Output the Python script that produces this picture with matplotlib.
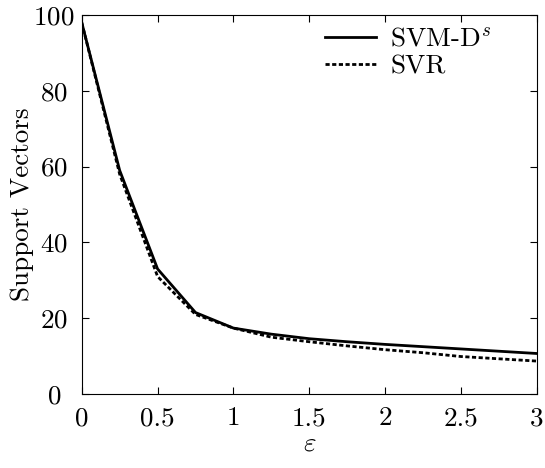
import matplotlib
matplotlib.use("Agg")
import matplotlib.pyplot as plt

# data
eps = [0, 0.25, 0.5, 0.75, 1.0, 1.25, 1.5, 1.75, 2.0, 2.25, 2.5, 2.75, 3.0]
svm_ds = [98, 59, 33, 21.5, 17.4, 15.8, 14.6, 13.8, 13.1, 12.5, 11.9, 11.3, 10.7]
svr = [98, 58, 31, 21.0, 17.4, 15.0, 13.8, 12.7, 11.7, 10.9, 9.9, 9.3, 8.7]

plt.rcParams["font.family"] = "cmr10"
plt.rcParams["mathtext.fontset"] = "cm"
plt.rcParams["axes.unicode_minus"] = False
plt.rcParams["axes.formatter.use_mathtext"] = True

fs = 19.5

fig = plt.figure(figsize=(5.45, 4.68), dpi=100)
ax = fig.add_axes([0.150, 0.158, 0.835, 0.810])

ax.plot(eps, svm_ds, color="black", lw=2.0, label=r"SVM-D$^s$")
ax.plot(eps, svr, color="black", lw=2.0, linestyle=(0, (1.5, 0.9)), label="SVR")

ax.set_xlim(0, 3)
ax.set_ylim(0, 100)
ax.set_xticks([0, 0.5, 1, 1.5, 2, 2.5, 3])
ax.set_xticklabels(["0", "0.5", "1", "1.5", "2", "2.5", "3"])
ax.set_yticks([0, 20, 40, 60, 80, 100])
ax.tick_params(direction="in", top=True, right=True, labelsize=fs, length=5)
ax.tick_params(axis="x", pad=9)
ax.tick_params(axis="y", pad=20)
for lbl in ax.get_yticklabels():
    lbl.set_horizontalalignment("center")
ax.set_xlabel(r"$\varepsilon$", fontsize=fs, labelpad=1)
ax.set_ylabel("Support Vectors", fontsize=fs, labelpad=0)
ax.yaxis.set_label_coords(-0.105, 0.5)

ax.legend(loc="upper right", bbox_to_anchor=(0.935, 1.01), frameon=False,
          fontsize=fs, handlelength=1.9, handletextpad=0.5,
          borderaxespad=0.2, labelspacing=0.1)

fig.savefig("out.png", dpi=100)
